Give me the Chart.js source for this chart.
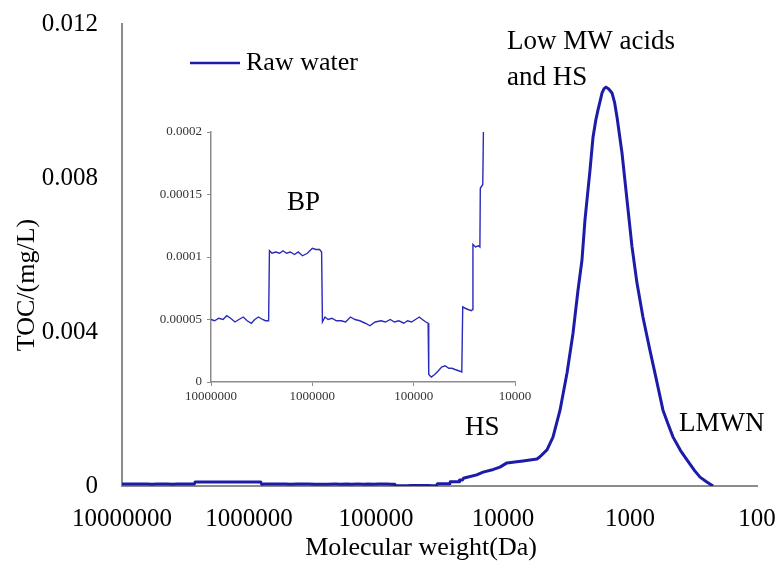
<!DOCTYPE html>
<html>
<head>
<meta charset="utf-8">
<script src="https://cdn.jsdelivr.net/npm/chart.js@4.4.1/dist/chart.umd.min.js"></script>
<style>
  html, body { margin: 0; padding: 0; background: #fff; }
  #wrap { position: relative; width: 781px; height: 577px; }
  #main { position: absolute; left: 0; top: 0; width: 781px; height: 577px; }
  #inset { position: absolute; left: 140px; top: 115px; width: 400px; height: 300px; }
</style>
</head>
<body>
<div id="wrap">
  <canvas id="main" width="781" height="577"></canvas>
  <canvas id="inset" width="400" height="300"></canvas>
</div>
<script>
// molecular weight (Da) and TOC (mg/L)
const mw = [
  1e7, 9.2e6, 8.4e6, 7.6e6, 7e6, 6.4e6, 5.8e6, 5.3e6, 4.8e6, 4.4e6, 4e6, 3.7e6, 3.4e6, 3.1e6, 2.9e6, 2.7e6,
  2.65e6, 2.5e6, 2.3e6, 2.1e6, 1.95e6, 1.8e6, 1.65e6, 1.5e6, 1.38e6, 1.25e6, 1.12e6, 1e6, 9.2e5, 8.5e5, 8.1e5,
  7.95e5, 7.5e5, 7e5, 6.4e5, 5.8e5, 5.2e5, 4.7e5, 4.2e5, 3.8e5, 3.4e5, 3e5, 2.7e5, 2.4e5, 2.1e5, 1.9e5, 1.7e5,
  1.55e5, 1.4e5, 1.25e5, 1.15e5, 1.05e5, 9.6e4, 8.8e4, 8.2e4, 7.6e4, 7.2e4,
  7.1e4, 6.7e4, 6.2e4, 5.7e4, 5.3e4, 4.9e4, 4.5e4, 4.2e4, 3.9e4, 3.6e4, 3.35e4,
  3.28e4, 3.1e4, 2.9e4, 2.7e4, 2.62e4, 2.6e4, 2.45e4, 2.3e4, 2.22e4, 2.2e4, 2.08e4, 2.05e4,
  19500, 16100, 14350, 11900, 10570, 9310, 7800, 6960, 5400, 5120, 4505, 4040, 3556, 3130, 2810, 2566,
  2388, 2262, 2064, 1955, 1860, 1786, 1710, 1660, 1600, 1545, 1470, 1386, 1320, 1265, 1156, 1056, 964,
  881, 791, 697, 612, 550, 500, 458, 400, 356, 310, 281, 250, 222
];
const toc = [
  0.000050, 0.000049, 0.000051, 0.000050, 0.000053, 0.000051, 0.000048, 0.000050, 0.000052, 0.000049, 0.000047, 0.000050, 0.000052, 0.000050, 0.000049, 0.000049,
  0.000105, 0.000103, 0.000104, 0.000103, 0.000105, 0.000103, 0.000104, 0.000102, 0.000104, 0.000101, 0.000103, 0.000107, 0.000106, 0.000106, 0.000104,
  0.000048, 0.000052, 0.000050, 0.000051, 0.000049, 0.000049, 0.000048, 0.000052, 0.000050, 0.000049, 0.000047, 0.000045, 0.000048, 0.000049, 0.000048, 0.000050,
  0.000048, 0.000049, 0.000047, 0.000049, 0.000048, 0.000050, 0.000052, 0.000050, 0.000048, 0.000047,
  0.000006, 0.000004, 0.000006, 0.000009, 0.000012, 0.000013, 0.000011, 0.000011, 0.000010, 0.000009, 0.000008,
  0.000060, 0.000059, 0.000058, 0.000057, 0.000058, 0.000110, 0.000108, 0.000109, 0.000108, 0.000155, 0.000158, 0.000200,
  0.00022, 0.00029, 0.00036, 0.00043, 0.00049, 0.00060, 0.00063, 0.00065, 0.00070, 0.00076, 0.00094, 0.00127, 0.00197, 0.00294, 0.00397, 0.00509,
  0.00587, 0.00691, 0.00821, 0.00906, 0.00950, 0.00977, 0.01003, 0.01021, 0.01032, 0.01036, 0.01031, 0.01021, 0.00995, 0.00958, 0.00865, 0.00743, 0.00621,
  0.00527, 0.00439, 0.00353, 0.00268, 0.00197, 0.00160, 0.00127, 0.00092, 0.00068, 0.00040, 0.00023, 0.00011, 0
];

const xTicks = [1e7, 1e6, 1e5, 1e4, 1e3, 1e2];
const xTickLabels = ['10000000', '1000000', '100000', '10000', '1000', '100'];
const yTicks = [0, 0.004, 0.008, 0.012];
const yTickLabels = ['0', '0.004', '0.008', '0.012'];

const insetXTicks = [1e7, 1e6, 1e5, 1e4];
const insetXTickLabels = ['10000000', '1000000', '100000', '10000'];
const insetYTicks = [0, 0.00005, 0.0001, 0.00015, 0.0002];
const insetYTickLabels = ['0', '0.00005', '0.0001', '0.00015', '0.0002'];

const seriesName = 'Raw water';

const points = mw.map((m, i) => ({ x: m, y: toc[i] }));
const serif = "'Liberation Serif', 'Times New Roman', serif";
const axisGray = '#8c8c8c';
const lineBlue = '#1c1ca8';

// text drawn on top of each chart: [text, x, y, size, align, rotation]
const textLayer = {
  id: 'textLayer',
  afterDraw(chart, args, opts) {
    const ctx = chart.ctx;
    ctx.save();
    ctx.fillStyle = '#000';
    ctx.textBaseline = 'middle';
    (opts.legend || []).forEach(([label, x, y, size]) => {
      ctx.strokeStyle = lineBlue;
      ctx.lineWidth = 2.5;
      ctx.beginPath();
      ctx.moveTo(x, y);
      ctx.lineTo(x + 50, y);
      ctx.stroke();
      ctx.font = `${size}px ${serif}`;
      ctx.textAlign = 'left';
      ctx.fillText(label, x + 56, y);
    });
    (opts.notes || []).forEach(([text, x, y, size, align, rot]) => {
      ctx.save();
      ctx.translate(x, y);
      if (rot) ctx.rotate(rot);
      ctx.font = `${size}px ${serif}`;
      ctx.textAlign = align || 'left';
      ctx.fillText(text, 0, 0);
      ctx.restore();
    });
    ctx.restore();
  }
};

new Chart(document.getElementById('main'), {
  type: 'line',
  data: {
    datasets: [{
      label: seriesName,
      data: points,
      borderColor: lineBlue,
      borderWidth: 3,
      borderJoinStyle: 'round',
      pointRadius: 0,
      tension: 0
    }]
  },
  options: {
    responsive: false,
    animation: false,
    layout: { padding: { top: 24, right: 24, left: 0, bottom: 0 } },
    plugins: {
      legend: { display: false },
      tooltip: { enabled: false },
      textLayer: {
        legend: [[seriesName, 190, 63, 26]],
        notes: [
          ['TOC/(mg/L)', 27, 285, 26, 'center', -Math.PI / 2],
          ['Molecular weight(Da)', 421, 548, 26, 'center'],
          ['Low MW acids', 507, 42, 27],
          ['and HS', 507, 78, 27],
          ['HS', 465, 428, 27],
          ['LMWN', 679, 424, 27]
        ]
      }
    },
    scales: {
      x: {
        type: 'logarithmic',
        reverse: true,
        min: 100,
        max: 1e7,
        afterBuildTicks: s => { s.ticks = xTicks.map(v => ({ value: v })); },
        afterFit: s => { s.height = 91; s.paddingLeft = 0; s.paddingRight = 10; },
        grid: { display: false, drawTicks: false },
        border: { color: axisGray, width: 2 },
        ticks: {
          padding: 18,
          color: '#000',
          autoSkip: false,
          maxRotation: 0,
          font: { family: serif, size: 25 },
          callback: (v, i) => xTickLabels[i]
        }
      },
      y: {
        min: 0,
        max: 0.012,
        afterBuildTicks: s => { s.ticks = yTicks.map(v => ({ value: v })); },
        afterFit: s => { s.width = 122; s.paddingTop = 12; s.paddingBottom = 12; },
        grid: { display: false, drawTicks: false },
        border: { color: axisGray, width: 2 },
        ticks: {
          padding: 24,
          color: '#000',
          font: { family: serif, size: 25 },
          callback: (v, i) => yTickLabels[i]
        }
      }
    }
  },
  plugins: [textLayer]
});

new Chart(document.getElementById('inset'), {
  type: 'line',
  data: {
    datasets: [{
      label: seriesName,
      data: points,
      borderColor: '#2a2abb',
      borderWidth: 1.4,
      pointRadius: 0,
      tension: 0
    }]
  },
  options: {
    responsive: false,
    animation: false,
    layout: { padding: { top: 17, right: 25, left: 0, bottom: 0 } },
    plugins: {
      legend: { display: false },
      tooltip: { enabled: false },
      textLayer: {
        notes: [['BP', 147, 88, 27]]
      }
    },
    scales: {
      x: {
        type: 'logarithmic',
        reverse: true,
        min: 1e4,
        max: 1e7,
        afterBuildTicks: s => { s.ticks = insetXTicks.map(v => ({ value: v })); },
        afterFit: s => { s.height = 33; s.paddingLeft = 0; s.paddingRight = 10; },
        grid: { drawOnChartArea: false, drawTicks: true, tickLength: 4, color: axisGray },
        border: { color: axisGray, width: 1.5 },
        ticks: {
          padding: 3,
          color: '#333',
          autoSkip: false,
          maxRotation: 0,
          font: { family: serif, size: 13 },
          callback: (v, i) => insetXTickLabels[i]
        }
      },
      y: {
        min: 0,
        max: 0.0002,
        afterBuildTicks: s => { s.ticks = insetYTicks.map(v => ({ value: v })); },
        afterFit: s => { s.width = 71; s.paddingTop = 8; s.paddingBottom = 8; },
        grid: { drawOnChartArea: false, drawTicks: true, tickLength: 4, color: axisGray },
        border: { color: axisGray, width: 1.5 },
        ticks: {
          padding: 5,
          color: '#333',
          font: { family: serif, size: 13 },
          callback: (v, i) => insetYTickLabels[i]
        }
      }
    }
  },
  plugins: [textLayer]
});
</script>
</body>
</html>
